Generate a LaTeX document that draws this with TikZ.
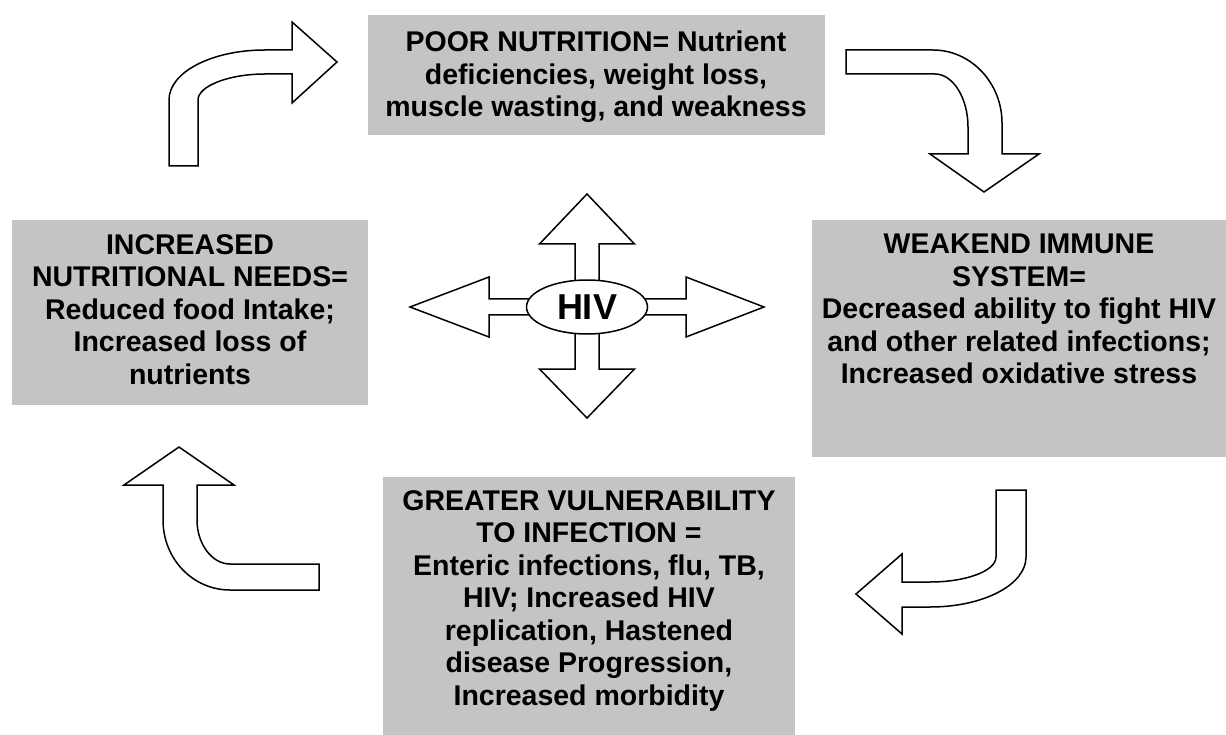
\documentclass[tikz,border=0pt]{standalone}
\usepackage{fontspec}
\setmainfont{Liberation Sans}
\usetikzlibrary{shapes.geometric}
\definecolor{panelgray}{RGB}{196,196,196}

\begin{document}
\begin{tikzpicture}[x=1pt, y=-1pt,
    txt/.style={anchor=north, inner sep=0pt, align=center,
        font=\bfseries\fontsize{28.5}{32.5}\selectfont},
    blockarrow/.style={draw, fill=white, line width=1.5pt, line join=miter}]
    % Canvas of the picture
    \useasboundingbox (0,0) rectangle (1226,735);

    % Grey panels
    \fill[panelgray] (368,15) rectangle (825,135);   % poor nutrition
    \fill[panelgray] (812,220) rectangle (1226,457); % weakened immunity
    \fill[panelgray] (383,477) rectangle (795,735);  % vulnerability
    \fill[panelgray] (12,220) rectangle (368,405);   % nutritional needs

    % Panel texts
    \node[txt] (poor) at (596,31) {POOR NUTRITION= Nutrient\\deficiencies, weight loss,\\muscle wasting, and weakness};
    \node[txt] (weak) at (1019,234) {WEAKEND IMMUNE\\SYSTEM=\\Decreased ability to fight HIV\\and other related infections;\\Increased oxidative stress};
    \node[txt] (vuln) at (589,490) {GREATER VULNERABILITY\\TO INFECTION =\\Enteric infections, flu, TB,\\HIV; Increased HIV\\replication, Hastened\\disease Progression,\\Increased morbidity};
    \node[txt] (needs) at (190,234) {INCREASED\\NUTRITIONAL NEEDS=\\Reduced food Intake;\\Increased loss of\\nutrients};

    % Bent arrows of the cycle
    \draw[blockarrow] (169,166) -- (169,100) .. controls (169,72) and (212,50) .. (265,50)
        -- (292,50) -- (292,22) -- (337,62) -- (292,103) -- (292,74) -- (265,74)
        .. controls (229,74) and (198,86) .. (198,100) -- (198,166) -- cycle;
    \draw[blockarrow] (846,50) -- (933,50) .. controls (971,50) and (1002,83) .. (1002,123)
        -- (1002,154) -- (1039,154) -- (984,192) -- (930,154) -- (968,154) -- (968,127)
        .. controls (968,98) and (953,74) .. (935,74) -- (846,74) -- cycle;
    \draw[blockarrow] (1026,490) -- (1026,557) .. controls (1026,585) and (983,607) .. (930,607)
        -- (902,607) -- (902,634) -- (856,594) -- (902,554) -- (902,582) -- (930,582)
        .. controls (966,582) and (996,571) .. (996,557) -- (996,490) -- cycle;
    \draw[blockarrow] (319,564) -- (230,564) .. controls (212,564) and (197,544) .. (197,520)
        -- (197,485) -- (234,485) -- (179,447) -- (124,485) -- (163,485) -- (163,520)
        .. controls (163,559) and (193,590) .. (230,590) -- (319,590) -- cycle;

    % HIV in the middle, pointing four ways
    \begin{scope}[shift={(587,307)}]
        \draw[blockarrow] (-12,0) -- (-12,-63) -- (-47.5,-63) -- (0,-113) -- (47.5,-63) -- (12,-63) -- (12,0) -- cycle;
        \draw[blockarrow] (-12,0) -- (-12,62) -- (-47.5,62) -- (0,111) -- (47.5,62) -- (12,62) -- (12,0) -- cycle;
        \draw[blockarrow] (0,-8) -- (-98,-8) -- (-98,-30) -- (-177,0) -- (-98,30) -- (-98,8) -- (0,8) -- cycle;
        \draw[blockarrow] (0,-8) -- (99,-8) -- (99,-30) -- (177,0) -- (99,30) -- (99,8) -- (0,8) -- cycle;
    \end{scope}
    \node[ellipse, draw, fill=white, line width=1.5pt, minimum width=121, minimum height=54,
        inner sep=0pt, font=\bfseries\fontsize{36}{36}\selectfont] (hiv) at (587,307) {HIV};
\end{tikzpicture}
\end{document}
